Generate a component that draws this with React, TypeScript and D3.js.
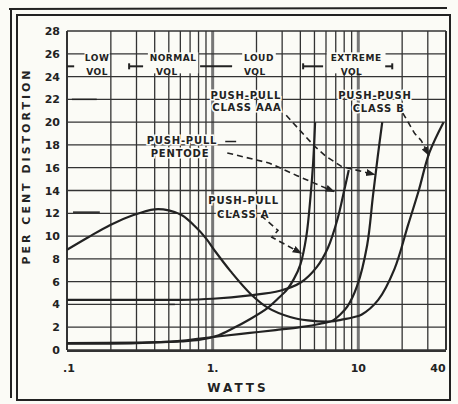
import React from 'react';
import * as d3 from 'd3';

// percent distortion vs watts, log x axis
const yTickValues = [0, 2, 4, 6, 8, 10, 12, 14, 16, 18, 20, 22, 24, 26, 28];
const xTickValues = [0.1, 1, 10, 40];
const xTickLabels = ['.1', '1.', '10', '40'];

const pushPullClassA: [number, number][] = [
  [0.1, 0.6], [0.3, 0.65], [0.6, 0.75], [0.82, 0.9], [1.1, 1.3], [1.38, 1.9], [1.8, 2.7],
  [2.39, 3.7], [2.8, 4.5], [3.24, 5.3], [3.6, 6.2], [4.0, 7.5], [4.4, 10], [4.7, 13.5],
  [4.9, 16.5], [5.05, 20],
];
const pushPullClassAAA: [number, number][] = [
  [0.1, 0.55], [0.3, 0.6], [0.6, 0.8], [0.82, 1.0], [1.2, 1.25], [1.8, 1.5], [2.7, 1.75],
  [4, 2.0], [5.5, 2.3], [6.7, 2.6], [7.5, 3.1], [8.4, 3.8], [9.8, 5.6], [11.5, 9.2],
  [12.6, 13.5], [13.6, 17], [14.6, 20],
];
const pushPullPentode: [number, number][] = [
  [0.1, 4.4], [0.3, 4.4], [0.6, 4.4], [1, 4.5], [1.8, 4.8], [2.9, 5.2], [4, 5.9],
  [5.2, 7.3], [6.2, 9], [7.2, 11.5], [8, 14], [8.6, 15.8],
];
const pushPushClassB: [number, number][] = [
  [0.1, 8.8], [0.14, 9.9], [0.2, 11.0], [0.28, 11.8], [0.4, 12.35], [0.5, 12.25], [0.62, 11.8],
  [0.75, 10.9], [0.9, 9.8], [1.05, 8.6], [1.33, 6.9], [1.83, 4.9], [2.4, 3.7], [3.4, 2.9],
  [4.5, 2.6], [6.5, 2.5], [7.6, 2.65], [9.4, 2.9], [10.5, 3.1], [13.7, 4.4], [17.7, 7.1],
  [22, 11], [26, 14], [30.7, 17.3], [38.5, 20],
];

// volume ranges along the top
const rangeNames = ['LOW', 'NORMAL', 'LOUD', 'EXTREME'];
const rangeNameAt = [0.161, 0.535, 2.08, 9.66];
const rangeVolAt = [0.161, 0.485, 1.95, 8.98];
const rangeBars: [number, number][] = [[0.1, 0.112], [0.267, 0.333], [0.82, 1.36], [4.18, 5.73], [15.3, 17.1]];

// curve labels: [watts, pct] centre of each line
const curveLabels: { lines: string[]; at: [number, number][] }[] = [
  { lines: ['PUSH-PULL', 'CLASS AAA'], at: [[1.69, 22.4], [1.72, 21.3]] },
  { lines: ['PUSH-PUSH', 'CLASS  B'], at: [[13.0, 22.4], [13.8, 21.2]] },
  { lines: ['PUSH-PULL', 'PENTODE'], at: [[0.616, 18.4], [0.597, 17.3]] },
  { lines: ['PUSH-PULL', 'CLASS A'], at: [[1.63, 13.2], [1.62, 11.9]] },
];
const pointerAAA: [number, number][] = [[3.2, 20.6], [4.3, 18.8], [5.0, 17.9], [6.0, 17.0], [7.7, 16.1], [12.9, 15.4]];
const pointerB: [number, number][] = [[20.2, 20.8], [24.4, 19.0], [27.0, 18.4], [30.5, 17.1]];
const pointerPentode: [number, number][] = [[1.26, 17.3], [2.46, 16.4], [3.8, 15.3], [6.8, 13.9]];
const pointerA: [number, number][] = [[2.15, 11.8], [2.81, 10.5], [2.55, 9.9], [4.05, 8.5]];

const strayDashes: [number, number, number][] = [[0.108, 0.16, 22.0], [0.11, 0.168, 12.1], [0.5, 0.55, 4.0], [1.22, 1.45, 18.3]];

const ink = '#222';
const paper = '#fbfbf6';
const fontFamily = '"DejaVu Sans", sans-serif';

export default function App() {
  const x = d3.scaleLog().domain([0.1, 40]).range([67, 446]);
  const y = d3.scaleLinear().domain([0, 28]).range([350, 31]);
  const line = d3.line<[number, number]>().x(d => x(d[0])).y(d => y(d[1])).curve(d3.curveCatmullRom.alpha(0.5));
  const pointer = d3.line<[number, number]>().x(d => x(d[0])).y(d => y(d[1])).curve(d3.curveLinear);
  const gridX = x.ticks();
  const curves = [pushPullClassA, pushPullClassAAA, pushPullPentode, pushPushClassB];

  return (
    <svg width={458} height={404} style={{ position: 'absolute', left: 0, top: 0, background: paper }}>
      <defs>
        <marker id="ah" viewBox="0 0 8 8" refX={7} refY={4} markerWidth={6} markerHeight={6} orient="auto">
          <path d="M0,1L8,4L0,7z" fill={ink} />
        </marker>
      </defs>
      {/* frames */}
      <path d="M9,9L447,8" stroke={ink} strokeWidth={2} fill="none" />
      <path d="M11,9L11,398" stroke={ink} strokeWidth={2} fill="none" />
      <rect x={17} y={15} width={433} height={385} fill="none" stroke={ink} strokeWidth={2} />

      {/* grid */}
      <g stroke="#333" strokeWidth={1.3}>
        {gridX.map((v, i) => (
          <line key={'v' + i} x1={x(v)} x2={x(v)} y1={y(28)} y2={y(0)}
            stroke={v === 1 || v === 10 ? '#777' : '#333'} strokeWidth={v === 1 || v === 10 ? 3 : 1.3} />
        ))}
        {yTickValues.map(v => (
          <line key={'h' + v} x1={x(0.1)} x2={x(40)} y1={y(v)} y2={y(v)} />
        ))}
        <line x1={x(0.1)} x2={x(0.1)} y1={y(28)} y2={y(0)} strokeWidth={2} />
        <line x1={x(40)} x2={x(40)} y1={y(28)} y2={y(0)} strokeWidth={2} />
        <line x1={x(0.1)} x2={x(40)} y1={y(0) + 1} y2={y(0) + 1} strokeWidth={2} />
      </g>

      {/* curves */}
      {curves.map((c, i) => (
        <path key={i} d={line(c) || ''} fill="none" stroke={ink} strokeWidth={2.2} />
      ))}

      {/* axis labels */}
      <g fontFamily={fontFamily} fontWeight="bold" fill={ink}>
        {yTickValues.map(v => (
          <text key={v} x={60} y={y(v) + 4} fontSize={11} textAnchor="end">{v}</text>
        ))}
        {xTickValues.map((v, i) => (
          <text key={v} x={x(v) + (i === 0 ? 2 : i === 3 ? -8 : 0)} y={372} fontSize={11} textAnchor="middle">{xTickLabels[i]}</text>
        ))}
        <text x={238} y={392} fontSize={12} letterSpacing={3} textAnchor="middle">WATTS</text>
        <text transform="translate(30,166) rotate(-90)" fontSize={11} letterSpacing={3} textAnchor="middle">PER CENT DISTORTION</text>
      </g>

      {/* volume ranges */}
      <g fontFamily={fontFamily} fontWeight="bold" fill={ink} fontSize={9}>
        {rangeNames.map((n, i) => (
          <g key={n}>
            <rect x={x(rangeNameAt[i]) - n.length * 4.2} y={y(25.6) - 6} width={n.length * 8.4} height={21} fill={paper} />
            <text x={x(rangeNameAt[i])} y={y(25.6) + 3} textAnchor="middle" letterSpacing={0.5}>{n}</text>
            <text x={x(rangeVolAt[i])} y={y(24.4) + 3} textAnchor="middle" letterSpacing={0.5}>VOL</text>
          </g>
        ))}
      </g>
      <g stroke={ink} strokeWidth={2}>
        {rangeBars.map((b, i) => (
          <line key={i} x1={x(b[0])} x2={x(b[1])} y1={y(24.9)} y2={y(24.9)} />
        ))}
        {[0.267, 4.18, 17.1].map(v => (
          <line key={v} x1={x(v)} x2={x(v)} y1={y(24.9) - 3} y2={y(24.9) + 3} />
        ))}
        {strayDashes.map((s, i) => (
          <line key={'s' + i} x1={x(s[0])} x2={x(s[1])} y1={y(s[2])} y2={y(s[2])} strokeWidth={1.5} />
        ))}
      </g>

      {/* curve labels */}
      <g fontFamily={fontFamily} fontWeight="bold" fill={ink} fontSize={10} letterSpacing={0.8}>
        {curveLabels.map((l, i) => (
          <g key={i}>
            {l.lines.map((t, j) => (
              <text key={j} x={x(l.at[j][0])} y={y(l.at[j][1]) + 4} textAnchor="middle"
                stroke={paper} strokeWidth={3} paintOrder="stroke">{t}</text>
            ))}
          </g>
        ))}
      </g>
      <g fill="none" stroke={ink} strokeWidth={1.6} strokeDasharray="6,4">
        {[pointerAAA, pointerB, pointerPentode, pointerA].map((p, i) => (
          <path key={i} d={pointer(p) || ''} markerEnd="url(#ah)" />
        ))}
      </g>
    </svg>
  );
}
